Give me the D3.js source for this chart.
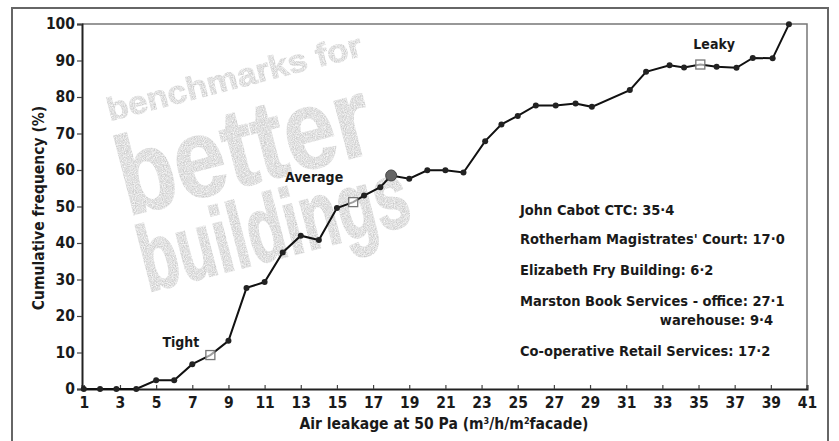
<!DOCTYPE html>
<html>
<head>
<meta charset="utf-8">
<script src="https://cdn.jsdelivr.net/npm/d3@7"></script>
<style>
  body { margin: 0; background: #fff; }
  svg { display: block; }
  .lbl { font-family: "Liberation Sans Narrow", "DejaVu Sans Condensed", "Roboto Condensed", sans-serif; font-weight: bold; fill: #1a1a1a; }
</style>
</head>
<body>
<svg id="chart" width="839" height="441"></svg>
<script>
// air leakage (m3/h/m2 facade) vs cumulative frequency (%)
const leakage = [1, 1.9, 2.8, 3.9, 5, 6, 7, 9, 10, 11, 12, 13, 14, 15, 16.5, 17.4, 18, 19, 20, 21, 22,
                 23.2, 24.1, 25, 26, 27.1, 28.2, 29.1, 31.2, 32.1, 33.4, 34.2, 36, 37.1, 38, 39.1, 40];
const frequency = [0, 0, 0, 0, 2.4, 2.4, 6.8, 13.2, 27.7, 29.3, 37.4, 42, 40.8, 49.6, 53, 55.3, 58.5, 57.6, 59.9, 59.9, 59.3,
                   67.9, 72.5, 74.8, 77.7, 77.7, 78.2, 77.3, 81.9, 86.9, 88.7, 88.1, 88.3, 88.0, 90.7, 90.6, 99.9];

// benchmark markers
const benchNames = ["Tight", "Average", "Leaky"];
const benchLeak = [8, 15.9, 35.1];
const benchFreq = [9.3, 51.2, 88.9];
const averagePoint = [18, 58.5];

const buildings = [
  "John Cabot CTC: 35·4",
  "Rotherham Magistrates' Court: 17·0",
  "Elizabeth Fry Building: 6·2",
  "Marston Book Services - office: 27·1",
  "warehouse: 9·4",
  "Co-operative Retail Services: 17·2"
];

const xTicks = d3.range(1, 42, 2);
const yTicks = d3.range(0, 101, 10);

const svg = d3.select("#chart");
const x = d3.scaleLinear().domain([0.9, 41]).range([82, 807]);
const y = d3.scaleLinear().domain([0, 100]).range([389, 24]);

// noise filter for the watermark
const defs = svg.append("defs");
const f = defs.append("filter").attr("id", "grain").attr("x", 0).attr("y", 0).attr("width", 1).attr("height", 1);
f.append("feTurbulence").attr("type", "fractalNoise").attr("baseFrequency", 0.9).attr("numOctaves", 2).attr("result", "noise");
f.append("feColorMatrix").attr("in", "noise").attr("type", "matrix")
  .attr("values", "0 0 0 0 0.58  0 0 0 0 0.58  0 0 0 0 0.58  0 0 0 -1.4 1.25").attr("result", "speck");
f.append("feComposite").attr("in", "speck").attr("in2", "SourceGraphic").attr("operator", "in");

// outer frame
svg.append("path")
  .attr("d", "M12,445 V8 H828 V445")
  .attr("fill", "none").attr("stroke", "#666").attr("stroke-width", 2);

// watermark
const wm = svg.append("g").attr("filter", "url(#grain)")
  .style("font-family", "'Liberation Sans', Arimo, sans-serif").style("font-weight", "bold");
wm.append("text").attr("transform", "translate(110,121) rotate(-14.5)")
  .attr("font-size", 32).attr("textLength", 262).attr("lengthAdjust", "spacingAndGlyphs")
  .attr("fill", "#ddd").attr("stroke", "#888").attr("stroke-width", 1)
  .text("benchmarks for");
wm.append("text").attr("transform", "translate(128,216) rotate(-14.5) scale(1,1.2)")
  .attr("font-size", 93)
  .attr("fill", "#aaa").attr("stroke", "#999").attr("stroke-width", 1.5)
  .text("better");
wm.append("text").attr("transform", "translate(148,292) rotate(-14.5) scale(1,1.5)")
  .attr("font-size", 62)
  .attr("fill", "#aaa").attr("stroke", "#999").attr("stroke-width", 1.5)
  .text("buildings");

// plot frame (top + right)
svg.append("path")
  .attr("d", `M${x(0.9)},${y(100)} H${x(41)} V${y(0)}`)
  .attr("fill", "none").attr("stroke", "#777").attr("stroke-width", 1.5);

// axes
const yAxis = svg.append("g").attr("transform", `translate(${x(0.9)},0)`)
  .call(d3.axisLeft(y).tickValues(yTicks).tickSize(5).tickPadding(2));
const xAxis = svg.append("g").attr("transform", `translate(0,${y(0)})`)
  .call(d3.axisBottom(x).tickValues(xTicks).tickSize(-4).tickPadding(10));
[xAxis, yAxis].forEach(a => {
  a.select(".domain").attr("stroke", "#222").attr("stroke-width", 2);
  a.selectAll(".tick line").attr("stroke", "#444").attr("stroke-width", 1.2);
  a.selectAll(".tick text").attr("class", "lbl").attr("font-size", 15.5).attr("fill", "#1a1a1a");
});
xAxis.selectAll(".tick text").attr("dy", "0.6em");

// axis titles
svg.append("text").attr("class", "lbl").attr("font-size", 15.5)
  .attr("x", 444).attr("y", 429).attr("text-anchor", "middle")
  .html('Air leakage at 50 Pa (m<tspan dy="-5" font-size="9">3</tspan><tspan dy="5">/h/m</tspan><tspan dy="-5" font-size="9">2</tspan><tspan dy="5">facade)</tspan>');
svg.append("text").attr("class", "lbl").attr("font-size", 15.5)
  .attr("transform", "translate(44,208) rotate(-90)").attr("text-anchor", "middle")
  .text("Cumulative frequency (%)");

// line + points
const pts = leakage.map((v, i) => [v, frequency[i]]);
const linePts = pts.concat(benchLeak.map((v, i) => [v, benchFreq[i]]), [averagePoint])
  .sort((a, b) => a[0] - b[0]);
svg.append("path").datum(linePts)
  .attr("fill", "none").attr("stroke", "#111").attr("stroke-width", 2)
  .attr("d", d3.line().x(d => x(d[0])).y(d => y(d[1])));

svg.append("g").selectAll("circle").data(pts).join("circle")
  .attr("cx", d => x(d[0])).attr("cy", d => y(d[1])).attr("r", 3)
  .attr("fill", "#222");

svg.append("circle").attr("cx", x(averagePoint[0])).attr("cy", y(averagePoint[1]))
  .attr("r", 5.5).attr("fill", "#666").attr("stroke", "#444");

svg.append("g").selectAll("rect").data(benchLeak).join("rect")
  .attr("x", (d, i) => x(d) - 4.5).attr("y", (d, i) => y(benchFreq[i]) - 4.5)
  .attr("width", 9).attr("height", 9)
  .attr("fill", "#fff").attr("fill-opacity", 0.6).attr("stroke", "#777").attr("stroke-width", 1.3);

// benchmark labels
const benchDx = [-11, -10, -5];
const benchDy = [-8, -20, -16];
svg.append("g").selectAll("text").data(benchNames).join("text")
  .attr("class", "lbl").attr("font-size", 14)
  .attr("x", (d, i) => x(benchLeak[i]) + benchDx[i])
  .attr("y", (d, i) => y(benchFreq[i]) + benchDy[i])
  .attr("text-anchor", (d, i) => i === 2 ? "start" : "end")
  .attr("dx", (d, i) => i === 2 ? -2 : 0)
  .text(d => d);

// building list
const listY = [215, 244, 275, 306, 325, 356];
svg.append("g").selectAll("text").data(buildings).join("text")
  .attr("class", "lbl").attr("font-size", 14.5)
  .attr("x", (d, i) => i === 4 ? 773 : 520)
  .attr("y", (d, i) => listY[i])
  .attr("text-anchor", (d, i) => i === 4 ? "end" : "start")
  .text(d => d);
</script>
</body>
</html>
